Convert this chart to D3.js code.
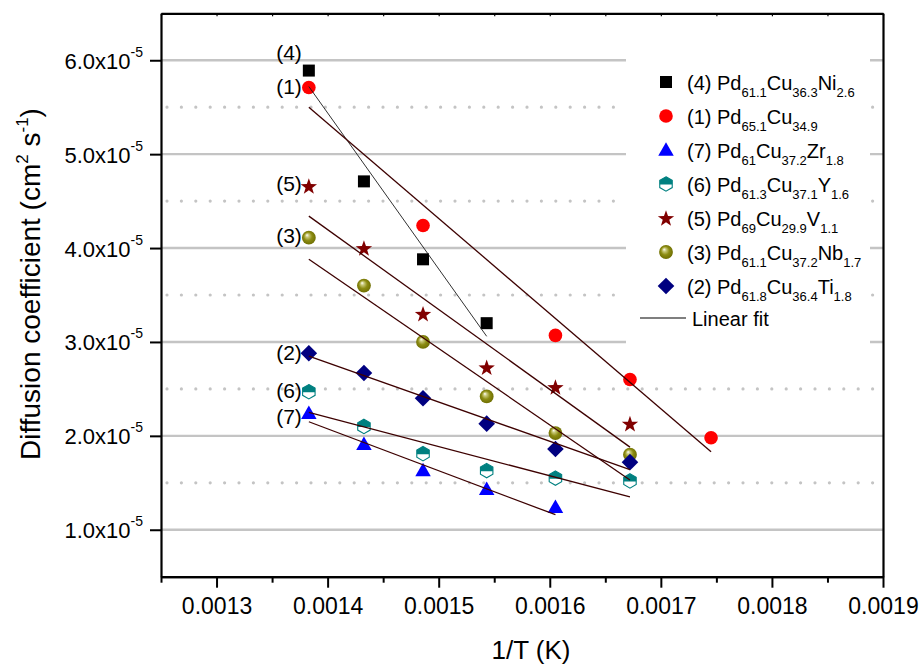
<!DOCTYPE html>
<html><head><meta charset="utf-8">
<script src="https://cdn.jsdelivr.net/npm/d3@7"></script>
<style>body{margin:0;background:#fff} text{font-family:"Liberation Sans",Arial,sans-serif;fill:#000}</style>
</head><body><svg id="c" width="920" height="665"></svg>
<script>
// ---- data (1/T in K^-1, D in 1e-5 cm^2 s^-1) ----
const xTicks = [0.0013, 0.0014, 0.0015, 0.0016, 0.0017, 0.0018, 0.0019];
const xMinorTicks = [0.00125, 0.00135, 0.00145, 0.00155, 0.00165, 0.00175, 0.00185];
const yTicks = [1.0, 2.0, 3.0, 4.0, 5.0, 6.0];
const yMinor = [1.5, 2.5, 3.5, 4.5, 5.5];

const x4 = [0.0013831, 0.0014327, 0.0014859, 0.0015432];
const y4 = [5.89, 4.71, 3.88, 3.20];
const fit4 = [5.72, 3.06];

const x1 = [0.0013831, 0.0014859, 0.0016051, 0.0016722, 0.0017452];
const y1 = [5.71, 4.24, 3.07, 2.60, 1.98];
const fit1 = [5.50, 1.83];

const x7 = [0.0013831, 0.0014327, 0.0014859, 0.0015432, 0.0016051];
const y7 = [2.24, 1.91, 1.63, 1.43, 1.24];
const fit7 = [2.15, 1.16];

const x6 = [0.0013831, 0.0014327, 0.0014859, 0.0015432, 0.0016051, 0.0016722];
const y6 = [2.47, 2.10, 1.81, 1.63, 1.55, 1.52];
const fit6 = [2.25, 1.35];

const x5 = [0.0013831, 0.0014327, 0.0014859, 0.0015432, 0.0016051, 0.0016722];
const y5 = [4.66, 4.00, 3.30, 2.73, 2.52, 2.13];
const fit5 = [4.34, 1.88];

const x3 = [0.0013831, 0.0014327, 0.0014859, 0.0015432, 0.0016051, 0.0016722];
const y3 = [4.11, 3.60, 3.00, 2.42, 2.03, 1.80];
const fit3 = [3.88, 1.53];

const x2 = [0.0013831, 0.0014327, 0.0014859, 0.0015432, 0.0016051, 0.0016722];
const y2 = [2.88, 2.67, 2.40, 2.13, 1.86, 1.72];
const fit2 = [2.85, 1.64];

const leg4 = [["(4) Pd","61.1"],["Cu","36.3"],["Ni","2.6"]];
const leg1 = [["(1) Pd","65.1"],["Cu","34.9"]];
const leg7 = [["(7) Pd","61"],["Cu","37.2"],["Zr","1.8"]];
const leg6 = [["(6) Pd","61.3"],["Cu","37.1"],["Y","1.6"]];
const leg5 = [["(5) Pd","69"],["Cu","29.9"],["V","1.1"]];
const leg3 = [["(3) Pd","61.1"],["Cu","37.2"],["Nb","1.7"]];
const leg2 = [["(2) Pd","61.8"],["Cu","36.4"],["Ti","1.8"]];
const fitLabel = "Linear fit";

const series = [
  {id:"(4)", x:x4, y:y4, fit:fit4, leg:leg4, shape:"square",  color:"#000000", line:"#1a1a1a", lw:0.9, ldx:-7, ldy:-11},
  {id:"(1)", x:x1, y:y1, fit:fit1, leg:leg1, shape:"circle",  color:"#ff0000", line:"#3d0000", lw:1.3, ldx:-7, ldy:7},
  {id:"(7)", x:x7, y:y7, fit:fit7, leg:leg7, shape:"triangle",color:"#0000ff", line:"#3d0000", lw:1.3, ldx:-7, ldy:11},
  {id:"(6)", x:x6, y:y6, fit:fit6, leg:leg6, shape:"hexagon", color:"#008080", line:"#3d0000", lw:1.3, ldx:-7, ldy:6},
  {id:"(5)", x:x5, y:y5, fit:fit5, leg:leg5, shape:"star",    color:"#800000", line:"#3d0000", lw:1.3, ldx:-7, ldy:5},
  {id:"(3)", x:x3, y:y3, fit:fit3, leg:leg3, shape:"sphere",  color:"#808000", line:"#3d0000", lw:1.3, ldx:-7, ldy:5},
  {id:"(2)", x:x2, y:y2, fit:fit2, leg:leg2, shape:"diamond", color:"#000080", line:"#3d0000", lw:1.3, ldx:-7, ldy:7}
];

// ---- scales ----
const X0 = 161, X1 = 883, Y0 = 576.7, Y1 = 13.3;
const xs = d3.scaleLinear().domain([0.00125, 0.0019]).range([X0, X1]);
const ys = d3.scaleLinear().domain([0.5, 6.5]).range([Y0, Y1]);

const svg = d3.select("#c");
const defs = svg.append("defs");
const grad = defs.append("radialGradient").attr("id","sph")
  .attr("cx","0.5").attr("cy","0.5").attr("r","0.55").attr("fx","0.36").attr("fy","0.3");
grad.append("stop").attr("offset","0").attr("stop-color","#ffffff");
grad.append("stop").attr("offset","0.22").attr("stop-color","#c9c97a");
grad.append("stop").attr("offset","0.55").attr("stop-color","#8c8c12");
grad.append("stop").attr("offset","1").attr("stop-color","#6a6a00");

// ---- grid ----
const grid = svg.append("g");
grid.selectAll("line.maj").data(yTicks).join("line")
  .attr("x1", X0).attr("x2", X1).attr("y1", d => ys(d)).attr("y2", d => ys(d))
  .attr("stroke", "#c4c4c4").attr("stroke-width", 2.4);
grid.selectAll("line.min").data(yMinor).join("line")
  .attr("x1", X0 + 6).attr("x2", X1).attr("y1", d => ys(d)).attr("y2", d => ys(d))
  .attr("stroke", "#c4c4c4").attr("stroke-width", 3.2).attr("stroke-linecap","round")
  .attr("stroke-dasharray", "0 14.4");

// ---- legend background ----
svg.append("rect").attr("x", 626).attr("y", 38).attr("width", 244).attr("height", 310).attr("fill", "#fff");

// ---- marker drawing ----
function drawMarker(g, shape, color, cx, cy) {
  const s = g.append("g").attr("transform", `translate(${cx},${cy})`);
  if (shape === "circle") {
    s.append("circle").attr("r", 6.8).attr("fill", color);
  } else if (shape === "sphere") {
    s.append("circle").attr("r", 6.9).attr("fill", "url(#sph)");
  } else if (shape === "square") {
    s.append("rect").attr("x", -6).attr("y", -6).attr("width", 12).attr("height", 12).attr("fill", color);
  } else if (shape === "triangle") {
    const h = 13.5, w = 15.5;
    s.append("path").attr("d", `M0,${-h*0.58}L${w/2},${h*0.42}L${-w/2},${h*0.42}Z`).attr("fill", color);
  } else if (shape === "diamond") {
    const r = 8.3;
    s.append("path").attr("d", `M0,${-r}L${r},0L0,${r}L${-r},0Z`).attr("fill", color);
  } else if (shape === "star") {
    const R = 8.6, r = R * 0.4;
    let d = "";
    for (let i = 0; i < 10; i++) {
      const a = -Math.PI/2 + i * Math.PI/5, rr = i % 2 ? r : R;
      d += (i ? "L" : "M") + (rr*Math.cos(a)).toFixed(2) + "," + (rr*Math.sin(a)+0.8).toFixed(2);
    }
    s.append("path").attr("d", d + "Z").attr("fill", color);
  } else if (shape === "hexagon") {
    const r = 7.2, c = 0.866 * r;
    s.append("path").attr("d", `M0,${-r}L${c},${-r/2}L${c},${r/2}L0,${r}L${-c},${r/2}L${-c},${-r/2}Z`)
      .attr("fill", "#fff").attr("stroke", color).attr("stroke-width", 1.1);
    s.append("path").attr("d", `M0,${-r}L${c},${-r/2}L${c},0.6L${-c},0.6L${-c},${-r/2}Z`).attr("fill", color);
  }
}

// ---- data markers ----
const pts = svg.append("g");
series.forEach(s => s.x.forEach((xv, i) => drawMarker(pts, s.shape, s.color, xs(xv), ys(s.y[i]))));

// ---- fit lines ----
const lineGen = d3.line().x(d => xs(d[0])).y(d => ys(d[1]));
const fits = svg.append("g");
series.forEach(s => {
  fits.append("path")
    .attr("d", lineGen([[s.x[0], s.fit[0]], [s.x[s.x.length - 1], s.fit[1]]]))
    .attr("fill", "none").attr("stroke", s.line).attr("stroke-width", s.lw);
});

// ---- series labels ----
series.forEach(s => {
  svg.append("text").attr("x", xs(s.x[0]) + s.ldx).attr("y", ys(s.y[0]) + s.ldy)
    .attr("text-anchor", "end").attr("font-size", 21).text(s.id);
});

// ---- axes ----
const axB = svg.append("g").attr("transform", `translate(0,${Y0})`)
  .call(d3.axisBottom(xs).tickValues(xTicks).tickSize(11).tickSizeOuter(0).tickPadding(10).tickFormat(d3.format(".4f")));
axB.append("g").call(d3.axisBottom(xs).tickValues(xMinorTicks).tickSize(6).tickSizeOuter(0).tickFormat(""));
axB.selectAll("text").attr("font-size", 23).style("font-family", '"Liberation Sans",Arial,sans-serif').attr("fill","#000");

const axL = svg.append("g").attr("transform", `translate(${X0},0)`)
  .call(d3.axisLeft(ys).tickValues(yTicks).tickSize(11).tickSizeOuter(0).tickFormat(""));

const axT = svg.append("g").attr("transform", `translate(0,${Y1})`)
  .call(d3.axisTop(xs).tickValues(xTicks.concat(xMinorTicks)).tickSize(-3).tickSizeOuter(0).tickFormat(""));
const axR = svg.append("g").attr("transform", `translate(${X1},0)`)
  .call(d3.axisRight(ys).tickValues([]).tickSizeOuter(0));

[axB, axL, axT, axR].forEach(a => {
  a.selectAll("path.domain").attr("stroke", "#000").attr("stroke-width", 2.2);
  a.selectAll("line").attr("stroke", "#000").attr("stroke-width", 2);
});
axT.selectAll("line").attr("stroke-width", 1.2);

// y tick labels with superscripts
yTicks.forEach(v => {
  const t = svg.append("text").attr("x", 143).attr("y", ys(v) + 8.5)
    .attr("text-anchor", "end").attr("font-size", 22);
  t.append("tspan").text(v.toFixed(1) + "x10");
  t.append("tspan").attr("dy", -12).attr("font-size", 14).text("-5");
});

// ---- axis titles ----
svg.append("text").attr("x", 531).attr("y", 659).attr("text-anchor", "middle")
  .attr("font-size", 26).text("1/T (K)");
const yt = svg.append("text").attr("transform", "translate(40,284) rotate(-90)")
  .attr("text-anchor", "middle").attr("font-size", 28);
yt.append("tspan").text("Diffusion coefficient (cm");
yt.append("tspan").attr("dy", -12).attr("font-size", 17).text("2");
yt.append("tspan").attr("dy", 12).text(" s");
yt.append("tspan").attr("dy", -12).attr("font-size", 17).text("-1");
yt.append("tspan").attr("dy", 12).text(")");

// ---- legend ----
const lg = svg.append("g");
series.forEach((s, i) => {
  const cy = 82 + i * 34;
  drawMarker(lg, s.shape, s.color, 666, cy);
  const t = lg.append("text").attr("x", 687).attr("y", cy + 8).attr("font-size", 20);
  s.leg.forEach(([main, sub], j) => {
    t.append("tspan").attr("dy", j ? -7 : 0).text(main);
    t.append("tspan").attr("dy", 7).attr("font-size", 13).text(sub);
  });
});
const fy = 82 + series.length * 34;
lg.append("line").attr("x1", 640).attr("x2", 686).attr("y1", fy - 2).attr("y2", fy - 2)
  .attr("stroke", "#000").attr("stroke-width", 1.2);
lg.append("text").attr("x", 692).attr("y", fy + 6).attr("font-size", 20).text(fitLabel);
</script></body></html>
